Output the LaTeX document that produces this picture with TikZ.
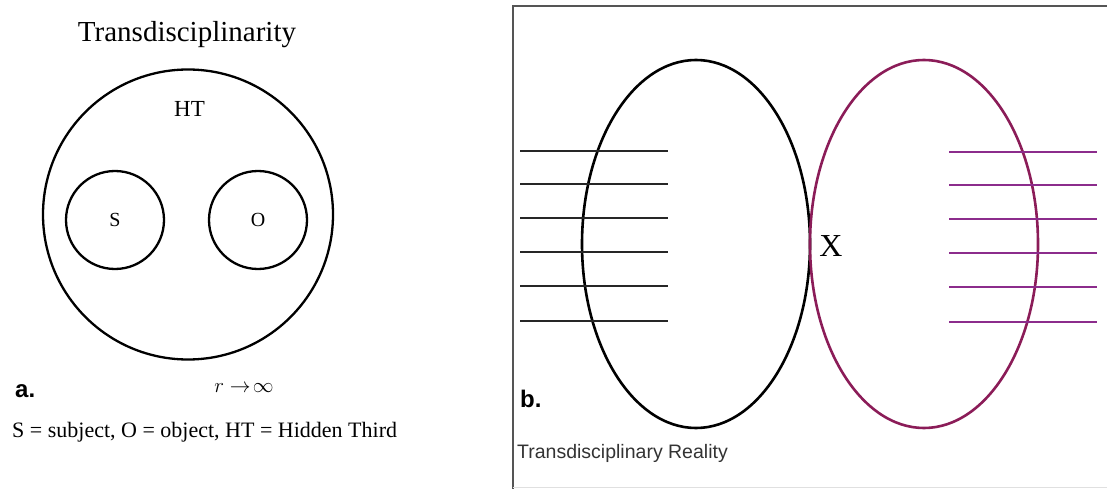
\documentclass[tikz,border=0pt]{standalone}
\usepackage{fontspec}
\setmainfont{Liberation Serif}
\setsansfont{Liberation Sans}
\usepackage{tikz}
\usetikzlibrary{shapes.geometric}
\definecolor{framegray}{RGB}{85,85,85}
\definecolor{ovalred}{RGB}{139,28,88}
\definecolor{linepurple}{RGB}{140,44,140}
\definecolor{textgray}{RGB}{51,51,51}

\begin{document}
\begin{tikzpicture}[x=1pt, y=-1pt,
    ring/.style={draw, circle, line width=2.3pt, inner sep=0pt},
    oval/.style={draw, ellipse, line width=2.6pt, minimum width=228pt, minimum height=368pt, inner sep=0pt},
    serif/.style={font=\fontsize{#1}{#1}\selectfont, inner sep=0pt},
    tag/.style={font=\sffamily\bfseries\fontsize{24}{24}\selectfont, inner sep=0pt, anchor=base west}]
    \useasboundingbox (0, 0) rectangle (1107, 489);

    \node[serif=29, anchor=base] at (187, 42) (title) {Transdisciplinarity};
    \node[ring, minimum size=290pt] at (188, 214.5) (HT) {};
    \node[serif=23, anchor=base] at (189.5, 117) (HTlabel) {HT};
    \node[ring, serif=20, minimum size=98pt] at (115, 220) (S) {S};
    \node[ring, serif=20, minimum size=98pt] at (258, 220) (O) {O};

    \node[tag] at (15, 397) (a) {a.};
    \node[serif=20, anchor=base] at (244, 392) (limit) {$r \rightarrow\!\infty$};
    \node[serif=22, anchor=base west] at (12, 437) (caption) {S = subject, O = object, HT = Hidden Third};

    \draw[framegray, line width=1.2pt] (1110, 6) -- (513, 6) -- (513, 490);
    \draw[black!12, line width=1pt] (513, 487.5) -- (1110, 487.5);

    \node[oval] at (696, 244) (left) {};
    \node[oval, ovalred] at (924, 244) (right) {};
    \node[serif=32] at (831, 246) (X) {X};

    \foreach \y in {151, 184, 218, 252, 286, 321} {
        \draw[black!85, line width=2.8pt] (520, \y) -- (668, \y);
        \draw[linepurple, line width=2.8pt] (949, \y+1) -- (1097, \y+1);
    }

    \node[tag] at (520, 407) (b) {b.};
    \node[font=\sffamily\fontsize{19.5}{20}\selectfont, text=textgray, inner sep=0pt, anchor=base west] at (517, 458) (reality) {Transdisciplinary Reality};
\end{tikzpicture}
\end{document}
